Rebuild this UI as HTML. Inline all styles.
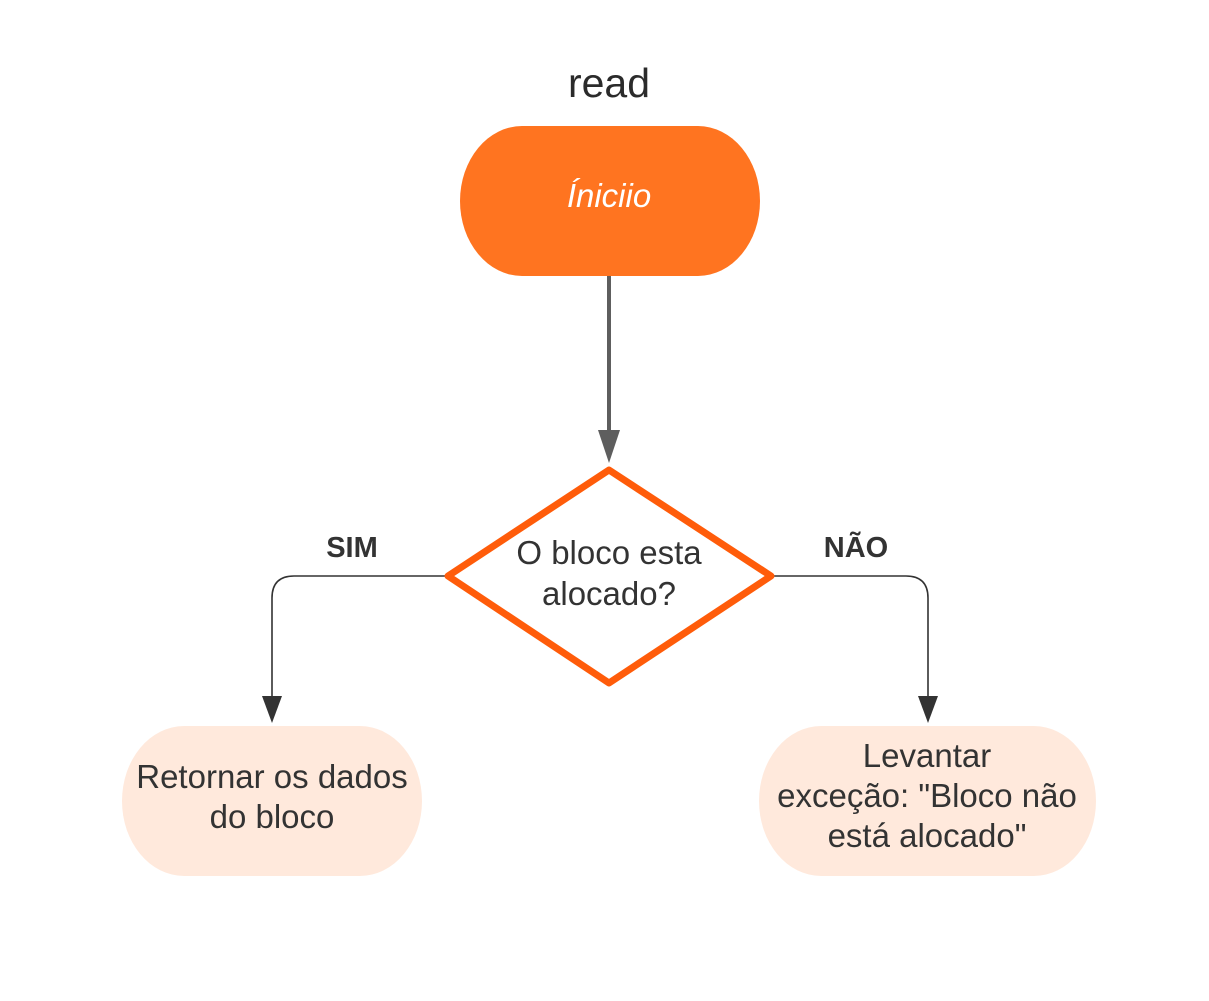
<!DOCTYPE html>
<html><head><meta charset="utf-8"><style>
html,body{margin:0;padding:0;background:#fff;width:1209px;height:1001px;overflow:hidden}
svg{display:block}
text{font-family:"Liberation Sans",Arial,sans-serif}
</style></head><body>
<svg width="1209" height="1001" viewBox="0 0 1209 1001" xmlns="http://www.w3.org/2000/svg">
<text x="609" y="97" font-size="41" fill="#2b2b2b" text-anchor="middle">read</text>
<rect x="460" y="126" width="300" height="150" rx="62" ry="75" fill="#FF7420"/>
<text x="609" y="207" font-size="33" font-style="italic" fill="#fff" text-anchor="middle">Íniciio</text>
<line x1="609" y1="276" x2="609" y2="432" stroke="#5e5e5e" stroke-width="4"/>
<polygon points="598,430 620,430 609,463" fill="#5e5e5e"/>
<path d="M445 576 H294 Q272 576 272 598 V698" fill="none" stroke="#333" stroke-width="1.6"/>
<polygon points="262,696 282,696 272,723" fill="#333"/>
<path d="M773 576 H906 Q928 576 928 598 V698" fill="none" stroke="#333" stroke-width="1.6"/>
<polygon points="918,696 938,696 928,723" fill="#333"/>
<polygon points="609,470 771,576 609,683 448,576" fill="#fff" stroke="#FF5C0A" stroke-width="7" stroke-linejoin="round"/>
<text x="609" y="564" font-size="33" fill="#333" text-anchor="middle">O bloco esta</text>
<text x="609" y="605" font-size="33" fill="#333" text-anchor="middle">alocado?</text>
<text x="352" y="557" font-size="29" font-weight="bold" fill="#333" text-anchor="middle">SIM</text>
<text x="856" y="557" font-size="29" font-weight="bold" fill="#333" text-anchor="middle">NÃO</text>
<rect x="122" y="726" width="300" height="150" rx="62" ry="75" fill="#FFE9DC"/>
<text x="272" y="788" font-size="33" fill="#333" text-anchor="middle">Retornar os dados</text>
<text x="272" y="828" font-size="33" fill="#333" text-anchor="middle">do bloco</text>
<rect x="759" y="726" width="337" height="150" rx="62" ry="75" fill="#FFE9DC"/>
<text x="927" y="767" font-size="33" fill="#333" text-anchor="middle">Levantar</text>
<text x="927" y="807" font-size="33" fill="#333" text-anchor="middle">exceção: "Bloco não</text>
<text x="927" y="847" font-size="33" fill="#333" text-anchor="middle">está alocado"</text>
</svg>
</body></html>
